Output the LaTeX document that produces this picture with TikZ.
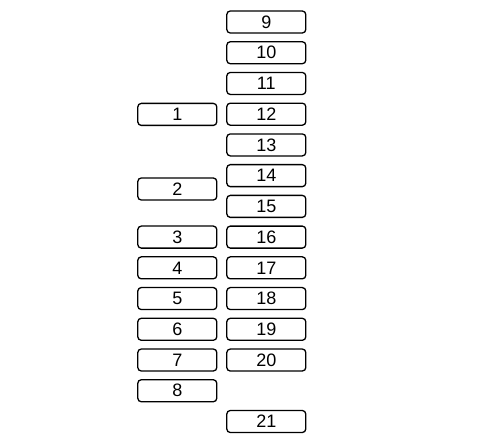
\documentclass[tikz,border=0pt]{standalone}
\usepackage{fontspec}
\setmainfont{Liberation Sans}
\tikzset{>=latex}
\tikzset{slot/.style={draw, line width=1.3pt, rounded corners=3.5pt, minimum width=79pt, minimum height=22pt, inner sep=0pt, font=\fontsize{18}{20}\selectfont}}

\begin{document}
\begin{tikzpicture}[x=1pt, y=-1pt]
    \useasboundingbox(0, 0) rectangle (477, 441);
    % right column
    \foreach \n in {9, ..., 20}
        \node[slot](r\n)at(266.3, {22+30.73*(\n-9)}){\n};
    \node[slot](r21)at(266.3, 421.5){21};
    % left column
    \node[slot](l1)at(177.3, 114.4){1};
    \node[slot](l2)at(177.3, 189){2};
    \foreach \n in {3, ..., 8}
        \node[slot](l\n)at(177.3, {237.1+30.73*(\n-3)}){\n};
\end{tikzpicture}
\end{document}
